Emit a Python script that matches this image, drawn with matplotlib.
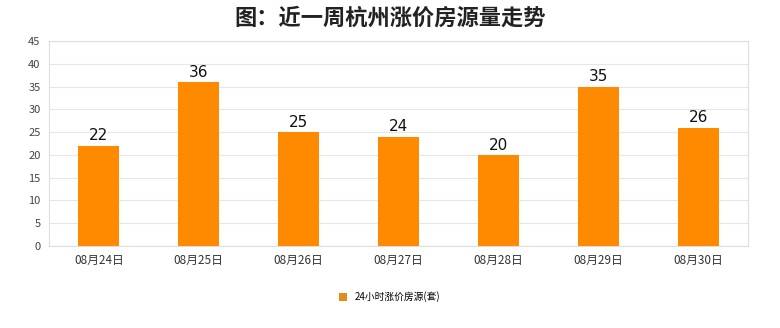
import matplotlib.pyplot as plt
from matplotlib.patches import Patch

plt.rcParams['font.family'] = ['Noto Sans CJK SC', 'DejaVu Sans']

dates = ['08月24日', '08月25日', '08月26日', '08月27日', '08月28日', '08月29日', '08月30日']
counts = [22, 36, 25, 24, 20, 35, 26]
yticks = [0, 5, 10, 15, 20, 25, 30, 35, 40, 45]

fig = plt.figure(figsize=(7.8, 3.28), dpi=100)
ax = fig.add_axes([49/780, 1 - 246/328, 699/780, 205/328])

x = range(len(dates))
bars = ax.bar(x, counts, width=0.41, color='#FF8A00', zorder=3)
for xi, v in zip(x, counts):
    ax.text(xi, v + 0.5, str(v), ha='center', va='bottom', fontsize=11,
            color='#111111', family='DejaVu Sans')

ax.set_xlim(-0.5, len(dates) - 0.5)
ax.set_ylim(0, 45)
ax.set_yticks(yticks)
ax.set_xticks(list(x))
ax.set_xticklabels(dates, fontsize=8.5, color='#333333')
ax.tick_params(axis='y', labelsize=8, colors='#444444', length=0, pad=6)
ax.tick_params(axis='x', length=0, pad=6)
ax.grid(axis='y', color='#e6e6e6', linewidth=0.8, zorder=0)
for s in ax.spines.values():
    s.set_color('#dddddd')
    s.set_linewidth(0.8)

fig.suptitle('图：近一周杭州涨价房源量走势', x=0.5, y=0.98, fontsize=16, fontweight='bold', color='#222222')

handle = Patch(facecolor='#E8891C', edgecolor='none')
fig.legend([handle], ['24小时涨价房源(套)'], loc='center', bbox_to_anchor=(0.5, 1 - 297/328),
           frameon=False, fontsize=7, handlelength=0.8, handleheight=0.8, handletextpad=0.8)

fig.savefig('out.png', dpi=100, facecolor='white')
